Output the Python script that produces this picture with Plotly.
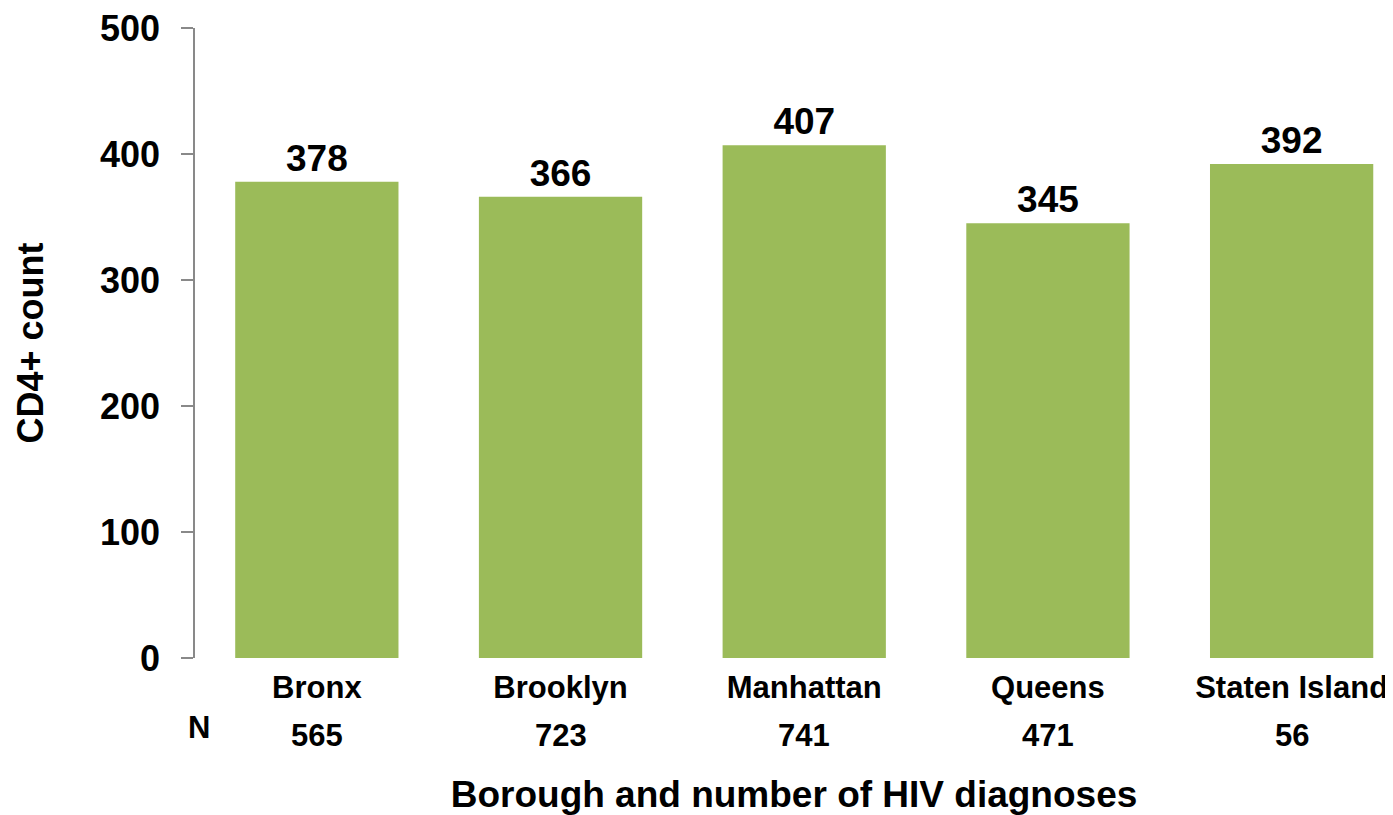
import plotly.graph_objects as go

boroughs = ["Bronx", "Brooklyn", "Manhattan", "Queens", "Staten Island"]
cd4_counts = [378, 366, 407, 345, 392]
n_diagnoses = [565, 723, 741, 471, 56]
y_ticks = [0, 100, 200, 300, 400, 500]

FONT = "Liberation Sans, Arial, sans-serif"
AXIS_GRAY = "#898989"

fig = go.Figure()
fig.add_trace(go.Bar(
    x=boroughs,
    y=cd4_counts,
    marker=dict(color="#9BBB59", line=dict(width=0)),
    text=[str(v) for v in cd4_counts],
    textposition="outside",
    textfont=dict(family=FONT, size=37, color="black", weight="bold"),
    cliponaxis=False,
    width=0.67,
))

for b, n in zip(boroughs, n_diagnoses):
    fig.add_annotation(
        x=b, y=0, xref="x", yref="y",
        text=str(n), showarrow=False,
        yanchor="middle", yshift=-77,
        font=dict(family=FONT, size=31, color="black", weight="bold"),
    )

fig.add_annotation(
    x=0, y=0, xref="paper", yref="y",
    text="N", showarrow=False, xanchor="center", xshift=4,
    yanchor="middle", yshift=-69,
    font=dict(family=FONT, size=31, color="black", weight="bold"),
)

fig.update_layout(
    width=1385, height=807,
    margin=dict(l=187, r=0, t=20, b=157),
    plot_bgcolor="white", paper_bgcolor="white",
    showlegend=False,
    bargap=0.33,
    xaxis=dict(
        range=[-0.5, 4.416],
        showline=False, showgrid=False, zeroline=False,
        ticks="",
        tickfont=dict(family=FONT, size=31, color="black", weight="bold"),
        ticklabelstandoff=8,
        ticklabeloverflow="allow",
        title=dict(text="Borough and number of HIV diagnoses",
                   font=dict(family=FONT, size=37, color="black", weight="bold"),
                   standoff=80),
    ),
    yaxis=dict(
        range=[0, 500],
        tickvals=y_ticks,
        showline=True, linecolor=AXIS_GRAY, linewidth=1.5,
        ticks="outside", ticklen=12, tickcolor=AXIS_GRAY, tickwidth=1.5,
        showgrid=False, zeroline=False,
        tickfont=dict(family=FONT, size=36, color="black", weight="bold"),
        ticklabelstandoff=14,
        ticklabeloverflow="allow",
        title=dict(text="CD4+ count",
                   font=dict(family=FONT, size=36, color="black", weight="bold"),
                   standoff=45),
    ),
)

fig.write_html("out.html")
